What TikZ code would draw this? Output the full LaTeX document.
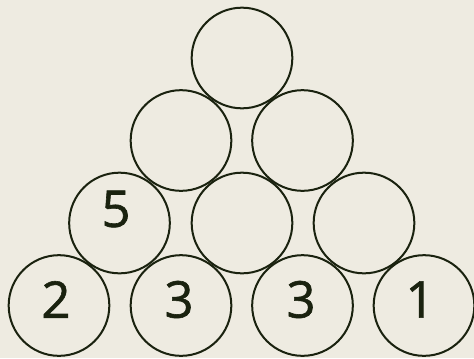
\documentclass[tikz,border=0pt]{standalone}
\usepackage{fontspec}
\setmainfont{Open Sans}
\newfontfamily\numfont[FakeBold=1.2]{Open Sans}
\definecolor{bg}{HTML}{EEEBE1}
\definecolor{ink}{HTML}{1A220F}
\begin{document}
\begin{tikzpicture}[x=0.75pt,y=-0.75pt,
  ball/.style={circle,draw=ink,line width=1.5pt,minimum size=75.5pt,inner sep=0pt,outer sep=0pt},
  num/.style={text=ink,font=\numfont\fontsize{38}{38}\selectfont,inner sep=0pt}]
\fill[bg] (0,0) rectangle (474,358);
\useasboundingbox (0,0) rectangle (474,358);
% row 1
\node[ball] (a1) at (242,58) {};
% row 2
\node[ball] (b1) at (181,140.5) {};
\node[ball] (b2) at (302.5,140.5) {};
% row 3
\node[ball] (c1) at (119.5,223) {};
\node[ball] (c2) at (242,223) {};
\node[ball] (c3) at (364,223) {};
% row 4
\node[ball] (d1) at (59,305.5) {};
\node[ball] (d2) at (181,305.5) {};
\node[ball] (d3) at (302.5,305.5) {};
\node[ball] (d4) at (424,305.5) {};
% numbers
\node[num] (n5) at (116,209) {5};
\node[num] (n2) at (56,299.5) {2};
\node[num] (n3a) at (179,299.5) {3};
\node[num] (n3b) at (301,299.5) {3};
\node[num] (n1) at (420,299.5) {1};
\end{tikzpicture}
\end{document}
